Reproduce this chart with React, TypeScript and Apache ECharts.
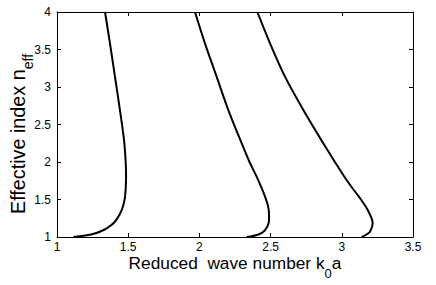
import React, { useEffect, useRef } from "react";
import * as echarts from "echarts";

const xTicks = { min: 1, max: 3.5, interval: 0.5 };
const yTicks = { min: 1, max: 4, interval: 0.5 };

// mode 1
const mode1N = [4.0, 3.582, 3.138, 2.693, 2.249, 1.804, 1.538, 1.4, 1.3, 1.2, 1.15, 1.1, 1.05, 1.02, 1.0];
const mode1K = [1.337, 1.372, 1.407, 1.442, 1.473, 1.485, 1.478, 1.462, 1.44, 1.405, 1.375, 1.335, 1.27, 1.2, 1.115];
// mode 2
const mode2N = [4.0, 3.582, 3.138, 2.693, 2.249, 2.0, 1.804, 1.538, 1.36, 1.227, 1.093, 1.03, 1.0];
const mode2K = [1.969, 2.039, 2.121, 2.203, 2.297, 2.352, 2.402, 2.461, 2.487, 2.489, 2.461, 2.41, 2.332];
// mode 3
const mode3N = [4.0, 3.582, 3.138, 2.693, 2.249, 2.0, 1.804, 1.65, 1.538, 1.36, 1.182, 1.071, 1.03, 1.0];
const mode3K = [2.407, 2.496, 2.601, 2.73, 2.87, 2.952, 3.018, 3.075, 3.12, 3.182, 3.217, 3.198, 3.17, 3.14];

const xTitleMain = "Reduced  wave number k";
const xTitleSub = "0";
const xTitleEnd = "a";
const yTitleMain = "Effective index n";
const yTitleSub = "eff";

const FONT = "Liberation Sans, Arial, Helvetica, sans-serif";

function pairs(k: number[], n: number[]) {
  return k.map((v, i) => [v, n[i]]);
}

export default function App() {
  const ref = useRef<HTMLDivElement>(null);
  useEffect(() => {
    if (!ref.current) return;
    const chart = echarts.init(ref.current, null, { renderer: "svg" });
    const tick = { show: true, inside: true, length: 4, lineStyle: { color: "#000", width: 1 } };
    const line = { show: true, onZero: false, lineStyle: { color: "#000", width: 1 } };
    const label = { color: "#000", fontSize: 12, fontFamily: FONT };
    const mkSeries = (k: number[], n: number[]) => ({
      type: "line",
      data: pairs(k, n),
      smooth: 0.3,
      showSymbol: false,
      symbol: "none",
      lineStyle: { color: "#000", width: 2 },
      xAxisIndex: 0,
      yAxisIndex: 0,
    });
    const xMain = { fontSize: 17.3, fontFamily: FONT, color: "#000", verticalAlign: "top", lineHeight: 21 };
    const xSub = { fontSize: 13, fontFamily: FONT, color: "#000", verticalAlign: "top", padding: [13, 0, 0, 0] };
    const yMain = { fontSize: 19.8, fontFamily: FONT, color: "#000", verticalAlign: "top", lineHeight: 24 };
    const ySub = { fontSize: 14, fontFamily: FONT, color: "#000", verticalAlign: "top", padding: [13, 0, 0, 0] };
    chart.setOption({
      animation: false,
      backgroundColor: "#fff",
      grid: { left: 57, right: 23, top: 12, bottom: 48, containLabel: false },
      xAxis: [
        {
          type: "value", ...xTicks, position: "bottom",
          axisLine: line, axisTick: tick, splitLine: { show: false },
          axisLabel: { ...label, margin: 4 },
        },
        {
          type: "value", ...xTicks, position: "top",
          axisLine: line, axisTick: tick, splitLine: { show: false },
          axisLabel: { show: false },
        },
      ],
      yAxis: [
        {
          type: "value", ...yTicks, position: "left",
          axisLine: line, axisTick: tick, splitLine: { show: false },
          axisLabel: { ...label, margin: 6 },
        },
        {
          type: "value", ...yTicks, position: "right",
          axisLine: line, axisTick: tick, splitLine: { show: false },
          axisLabel: { show: false },
        },
      ],
      series: [mkSeries(mode1K, mode1N), mkSeries(mode2K, mode2N), mkSeries(mode3K, mode3N)],
      graphic: [
        {
          type: "text",
          x: 235,
          y: 254,
          style: {
            text: `{m|${xTitleMain}}{s|${xTitleSub}}{m|${xTitleEnd}}`,
            align: "center",
            verticalAlign: "top",
            rich: { m: xMain, s: xSub },
          },
        },
        {
          type: "text",
          x: 8,
          y: 134,
          rotation: Math.PI / 2,
          style: {
            text: `{m|${yTitleMain}}{s|${yTitleSub}}`,
            align: "center",
            verticalAlign: "top",
            rich: { m: yMain, s: ySub },
          },
        },
      ],
    });
    return () => chart.dispose();
  }, []);
  return <div ref={ref} style={{ position: "fixed", left: 0, top: 0, width: 436, height: 285 }} />;
}
